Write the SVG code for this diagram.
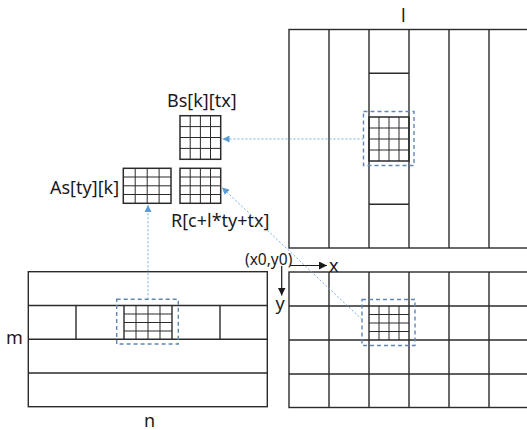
<svg xmlns="http://www.w3.org/2000/svg" width="527" height="430" viewBox="0 0 527 430">
<defs>
<style>
.ln{stroke:#2b2b2b;stroke-width:1.4;fill:none}
.gr{stroke:#2b2b2b;stroke-width:1;fill:none}
.ob{stroke:#2b2b2b;stroke-width:1.5;fill:none}
.dash{stroke:#5f86b4;stroke-width:1.4;fill:none;stroke-dasharray:4 3}
.dot{stroke:#7aaee0;stroke-width:1;fill:none;stroke-dasharray:2 2}
.ax{stroke:#1a1a1a;stroke-width:1.2;fill:none}
text{font-family:"Noto Sans","Open Sans","DejaVu Sans",sans-serif;fill:#1a1a1a;font-size:18px}
.sm{font-size:15.5px}
</style>
<marker id="ba" viewBox="0 0 10 10" refX="10" refY="5" markerWidth="7" markerHeight="7" markerUnits="userSpaceOnUse" orient="auto"><path d="M0,0L10,5L0,10z" fill="#5b9bd5"/></marker>
<marker id="ka" viewBox="0 0 10 10" refX="10" refY="5" markerWidth="8" markerHeight="8" markerUnits="userSpaceOnUse" orient="auto"><path d="M0,0L10,5L0,10z" fill="#1a1a1a"/></marker>
</defs>
<rect width="527" height="430" fill="#fff"/>

<g id="matrixB">
<rect class="ln" x="289" y="29.5" width="245" height="218.5"/>
<path class="ln" d="M329,29.5V248M369,29.5V248M409,29.5V248M449,29.5V248M489,29.5V248M369,73.2H409M369,204.3H409"/>
<rect class="ob" x="369" y="117" width="40" height="44"/>
<path class="gr" d="M379,117V161M389,117V161M399,117V161M369,128H409M369,139H409M369,150H409"/>
<rect class="dash" x="363.5" y="111.5" width="50.5" height="54"/>
<text x="401" y="22">l</text>
</g>

<g id="matrixC">
<rect class="ln" x="289" y="272" width="245" height="135.5"/>
<path class="ln" d="M329,272V407.5M369,272V407.5M409,272V407.5M449,272V407.5M489,272V407.5M289,306H534M289,340H534M289,374H534"/>
<path class="gr" d="M379,306V340M389,306V340M399,306V340M369,314.5H409M369,323H409M369,331.5H409"/>
<rect class="dash" x="362" y="299.5" width="53" height="46"/>
</g>

<g id="matrixA">
<rect class="ln" x="28.3" y="271.7" width="239" height="135"/>
<path class="ln" d="M28.3,305.5H267.3M28.3,339.3H267.3M28.3,373H267.3M76,305.5V339.3M124,305.5V339.3M172,305.5V339.3M220,305.5V339.3"/>
<path class="gr" d="M136,305.5V339.3M148,305.5V339.3M160,305.5V339.3M124,314H172M124,322.5H172M124,331H172"/>
<rect class="dash" x="116.7" y="299.3" width="61.6" height="44.7"/>
<text x="6" y="344">m</text>
<text x="144" y="426.5">n</text>
</g>

<g id="Bs">
<rect class="ob" x="180" y="115.7" width="40.7" height="43.6"/>
<path class="gr" d="M190.2,115.7V159.3M200.4,115.7V159.3M210.5,115.7V159.3M180,126.6H220.7M180,137.5H220.7M180,148.4H220.7"/>
<text x="167" y="107">Bs[k][tx]</text>
</g>

<g id="As">
<rect class="ob" x="123.3" y="168.3" width="47.7" height="35"/>
<path class="gr" d="M135.2,168.3V203.3M147.2,168.3V203.3M159.1,168.3V203.3M123.3,177H171M123.3,185.8H171M123.3,194.5H171"/>
<text x="50" y="193.5">As[ty][k]</text>
</g>

<g id="R">
<rect class="ob" x="180" y="168.3" width="40.7" height="35"/>
<path class="gr" d="M190.2,168.3V203.3M200.4,168.3V203.3M210.5,168.3V203.3M180,177H220.7M180,185.8H220.7M180,194.5H220.7"/>
<text x="171" y="226.5">R[c+l*ty+tx]</text>
</g>

<g id="axes">
<text class="sm" x="245" y="264.5">(x0,y0)</text>
<path class="ax" d="M290,265.5H327" marker-end="url(#ka)"/>
<path class="ax" d="M281.7,266V295.5" marker-end="url(#ka)"/>
<text x="329" y="271.5">x</text>
<text x="275.5" y="310">y</text>
</g>

<g id="connectors">
<path class="dot" d="M148,299.3V205" marker-end="url(#ba)"/>
<path class="dot" d="M363.5,139H222.5" marker-end="url(#ba)"/>
<path class="dot" d="M362,319.5L222,187.5" marker-end="url(#ba)"/>
</g>
</svg>
